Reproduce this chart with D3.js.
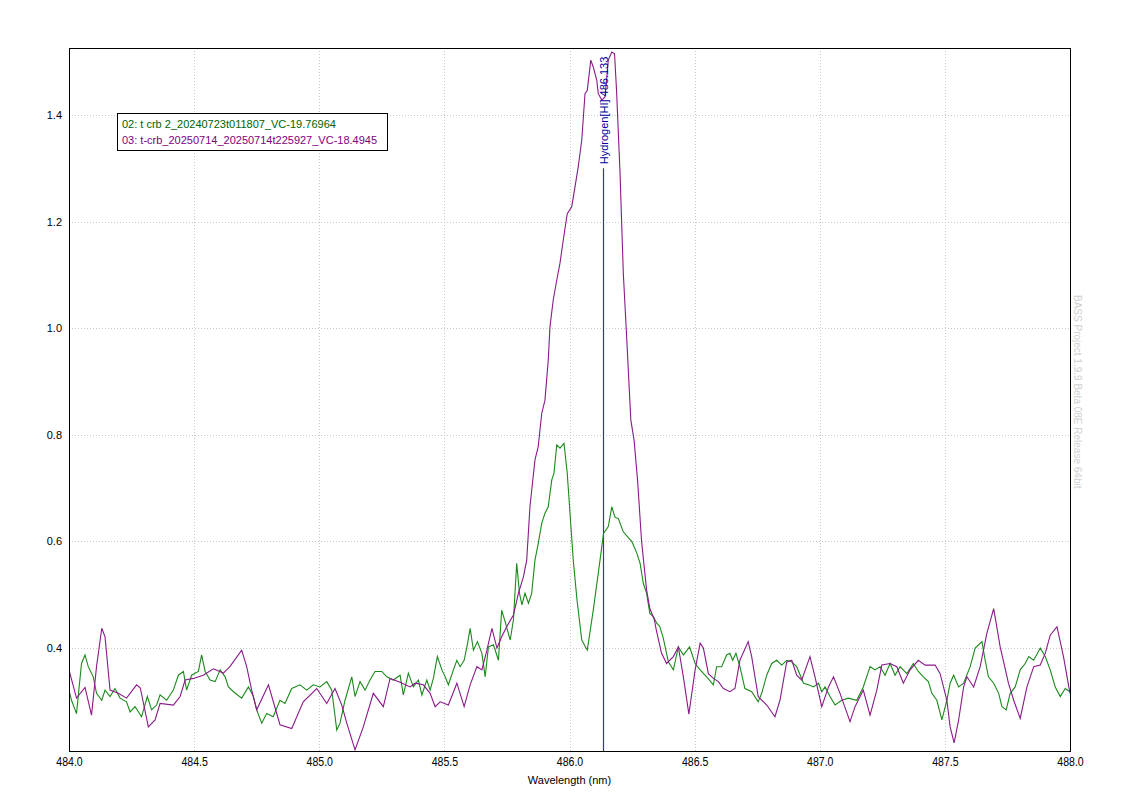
<!DOCTYPE html>
<html><head><meta charset="utf-8">
<script src="https://cdn.jsdelivr.net/npm/d3@7/dist/d3.min.js"></script>
<style>
html,body{margin:0;padding:0;background:#fff;}
svg{display:block;font-family:"Liberation Sans",Arial,sans-serif;}
</style></head>
<body>
<svg id="chart" width="1126" height="800"></svg>
<script>
// ---- data ----
const xTicks = [484.0, 484.5, 485.0, 485.5, 486.0, 486.5, 487.0, 487.5, 488.0];
const yTicks = [0.4, 0.6, 0.8, 1.0, 1.2, 1.4];
const legendLabels = ["02: t crb 2_20240723t011807_VC-19.76964", "03: t-crb_20250714_20250714t225927_VC-18.4945"];
const lineLabel = "Hydrogen[HI] 486.133";
const lineWavelength = 486.133;
const lineTopValue = 1.30;
const xLabel = "Wavelength (nm)";
const watermark = "BASS Project 1.9.9 Beta 08E Release 64bit";

const greenX = [484.00,484.01,484.03,484.05,484.064,484.077,484.097,484.11,484.131,484.144,484.164,484.184,484.204,484.23,484.244,484.264,484.29,484.313,484.33,484.35,484.364,484.39,484.417,484.437,484.457,484.47,484.49,484.517,484.53,484.544,484.564,484.584,484.604,484.624,484.637,484.657,484.69,484.717,484.737,484.75,484.77,484.79,484.816,484.843,484.863,484.89,484.923,484.95,484.976,485.003,485.03,485.05,485.07,485.083,485.103,485.13,485.143,485.163,485.183,485.203,485.223,485.25,485.27,485.296,485.323,485.336,485.356,485.376,485.396,485.41,485.43,485.443,485.456,485.472,485.49,485.503,485.516,485.536,485.55,485.563,485.579,485.59,485.603,485.616,485.632,485.65,485.663,485.676,485.696,485.716,485.729,485.743,485.763,485.776,485.789,485.8,485.81,485.822,485.836,485.849,485.862,485.875,485.889,485.902,485.915,485.929,485.938,485.949,485.962,485.978,485.991,486.002,486.015,486.03,486.049,486.071,486.095,486.122,486.136,486.155,486.169,486.182,486.195,486.215,486.235,486.249,486.269,486.282,486.295,486.308,486.321,486.335,486.348,486.361,486.375,486.395,486.415,486.435,486.455,486.48,486.502,486.522,486.548,486.575,486.588,486.608,486.628,486.641,486.652,486.665,486.681,486.701,486.728,486.754,486.768,486.788,486.808,486.828,486.848,486.868,486.888,486.908,486.935,486.955,486.975,486.995,487.008,487.021,487.041,487.061,487.088,487.114,487.148,487.174,487.201,487.221,487.241,487.261,487.281,487.301,487.321,487.348,487.374,487.394,487.414,487.434,487.448,487.468,487.488,487.508,487.521,487.535,487.555,487.575,487.601,487.621,487.648,487.661,487.674,487.695,487.715,487.728,487.745,487.761,487.781,487.801,487.821,487.835,487.855,487.881,487.901,487.921,487.941,487.961,487.981,488.0];
const greenY = [0.321,0.302,0.277,0.371,0.387,0.365,0.346,0.315,0.302,0.321,0.309,0.324,0.306,0.299,0.28,0.29,0.271,0.309,0.284,0.293,0.312,0.302,0.321,0.349,0.356,0.321,0.349,0.356,0.387,0.356,0.34,0.337,0.359,0.346,0.327,0.318,0.306,0.327,0.309,0.284,0.259,0.277,0.271,0.302,0.296,0.324,0.331,0.321,0.331,0.327,0.337,0.321,0.246,0.259,0.302,0.346,0.309,0.337,0.321,0.34,0.356,0.356,0.346,0.34,0.349,0.312,0.353,0.327,0.34,0.312,0.34,0.321,0.343,0.384,0.359,0.346,0.331,0.359,0.377,0.365,0.377,0.402,0.437,0.396,0.412,0.39,0.346,0.402,0.406,0.377,0.471,0.449,0.415,0.453,0.559,0.503,0.481,0.503,0.484,0.503,0.565,0.596,0.634,0.653,0.665,0.715,0.728,0.781,0.775,0.784,0.728,0.653,0.565,0.49,0.415,0.396,0.471,0.565,0.615,0.628,0.665,0.645,0.643,0.618,0.607,0.6,0.578,0.559,0.521,0.503,0.465,0.459,0.447,0.44,0.418,0.374,0.359,0.402,0.387,0.402,0.371,0.359,0.346,0.331,0.365,0.365,0.387,0.39,0.377,0.39,0.365,0.324,0.318,0.299,0.315,0.349,0.371,0.377,0.368,0.377,0.374,0.365,0.334,0.331,0.327,0.334,0.318,0.327,0.309,0.293,0.302,0.306,0.302,0.327,0.365,0.359,0.365,0.349,0.371,0.349,0.365,0.352,0.371,0.356,0.346,0.337,0.315,0.302,0.265,0.302,0.334,0.349,0.327,0.334,0.365,0.4,0.412,0.377,0.346,0.334,0.315,0.29,0.284,0.315,0.327,0.359,0.371,0.384,0.377,0.4,0.384,0.359,0.327,0.309,0.324,0.318];

const purpleX = [484.00,484.03,484.064,484.09,484.11,484.131,484.144,484.164,484.197,484.23,484.27,484.285,484.317,484.344,484.364,484.417,484.444,484.464,484.497,484.537,484.577,484.617,484.643,484.69,484.71,484.73,484.75,484.797,484.843,484.89,484.936,484.99,485.03,485.063,485.09,485.11,485.143,485.176,485.216,485.256,485.283,485.323,485.363,485.383,485.416,485.443,485.463,485.483,485.516,485.55,485.579,485.603,485.63,485.65,485.67,485.69,485.71,485.729,485.749,485.776,485.796,485.816,485.829,485.842,485.862,485.875,485.889,485.902,485.915,485.922,485.935,485.949,485.962,485.975,485.991,486.009,486.022,486.035,486.049,486.062,486.071,486.085,486.095,486.109,486.115,486.129,486.142,486.155,486.169,486.18,486.188,486.202,486.215,486.229,486.245,486.258,486.272,486.288,486.308,486.321,486.339,486.348,486.368,486.388,486.415,486.435,486.455,486.477,486.502,486.522,486.535,486.555,486.575,486.595,486.615,486.641,486.661,486.681,486.714,486.728,486.754,486.788,486.821,486.841,486.868,486.888,486.908,486.928,486.961,486.981,487.008,487.035,487.055,487.081,487.121,487.141,487.174,487.201,487.228,487.248,487.281,487.308,487.334,487.361,487.394,487.421,487.461,487.481,487.508,487.521,487.537,487.555,487.575,487.588,487.615,487.641,487.668,487.695,487.721,487.754,487.775,487.801,487.828,487.855,487.881,487.901,487.921,487.948,487.974,488.0];
const purpleY = [0.359,0.306,0.326,0.274,0.365,0.437,0.421,0.321,0.315,0.306,0.331,0.325,0.252,0.265,0.296,0.293,0.309,0.34,0.343,0.349,0.361,0.353,0.365,0.396,0.365,0.321,0.284,0.331,0.256,0.249,0.299,0.324,0.296,0.324,0.293,0.259,0.209,0.252,0.315,0.29,0.343,0.336,0.327,0.334,0.331,0.315,0.29,0.299,0.293,0.334,0.29,0.331,0.365,0.359,0.396,0.437,0.4,0.421,0.44,0.462,0.503,0.534,0.565,0.665,0.753,0.778,0.84,0.865,0.94,1.003,1.053,1.09,1.122,1.165,1.215,1.228,1.265,1.303,1.353,1.44,1.446,1.503,1.49,1.465,1.44,1.428,1.434,1.503,1.518,1.515,1.446,1.29,1.103,0.978,0.828,0.79,0.715,0.6,0.509,0.474,0.453,0.431,0.39,0.371,0.384,0.402,0.346,0.276,0.359,0.409,0.4,0.352,0.343,0.337,0.324,0.318,0.324,0.377,0.412,0.384,0.309,0.293,0.271,0.302,0.374,0.377,0.349,0.34,0.384,0.346,0.29,0.327,0.346,0.315,0.262,0.29,0.321,0.274,0.321,0.368,0.371,0.365,0.334,0.359,0.377,0.368,0.368,0.352,0.302,0.252,0.222,0.265,0.327,0.346,0.327,0.365,0.428,0.474,0.402,0.334,0.302,0.268,0.327,0.365,0.368,0.39,0.424,0.44,0.384,0.315];

const seriesColors = ["#1b8a1b", "#8a1a8a"];
const legendColors = ["#006400", "#800080"];

// ---- layout ----
const svg = d3.select("#chart");
const m = {left: 69, right: 1070, top: 48, bottom: 751};
const x = d3.scaleLinear().domain([484.0, 488.0]).range([m.left, m.right]);
const y = d3.scaleLinear().domain([0.2068, 1.5257]).range([m.bottom, m.top]);

svg.append("rect").attr("width", 1126).attr("height", 800).attr("fill", "#fff");

// grid
const grid = svg.append("g");
grid.selectAll(".gx").data(xTicks.slice(1, -1)).enter().append("line")
  .attr("x1", d => Math.round(x(d)) + 0.5).attr("x2", d => Math.round(x(d)) + 0.5)
  .attr("y1", m.top).attr("y2", m.bottom)
  .attr("stroke", "#c8c8c8").attr("stroke-dasharray", "1,2");
grid.selectAll(".gy").data(yTicks).enter().append("line")
  .attr("y1", d => Math.round(y(d)) + 0.5).attr("y2", d => Math.round(y(d)) + 0.5)
  .attr("x1", m.left).attr("x2", m.right)
  .attr("stroke", "#c8c8c8").attr("stroke-dasharray", "1,2");

// axes (labels only)
const xAxis = d3.axisBottom(x).tickValues(xTicks).tickFormat(d3.format(".1f")).tickSize(0).tickPadding(6);
const gx = svg.append("g").attr("transform", `translate(0,${m.bottom})`).call(xAxis);
gx.select(".domain").remove();
gx.selectAll("text").attr("font-size", 12).attr("fill", "#000")
  .attr("font-family", "'Liberation Sans Narrow','Arial Narrow','Liberation Sans',sans-serif")
  .attr("transform", "scale(0.88,1)");

const yAxis = d3.axisLeft(y).tickValues(yTicks).tickFormat(d3.format(".1f")).tickSize(0).tickPadding(7);
const gy = svg.append("g").attr("transform", `translate(${m.left},0)`).call(yAxis);
gy.select(".domain").remove();
gy.selectAll("text").attr("font-size", 11).attr("fill", "#000").attr("font-family", "'Liberation Sans',Arial,sans-serif");

// clip
svg.append("clipPath").attr("id", "clip").append("rect")
  .attr("x", m.left).attr("y", m.top).attr("width", m.right - m.left).attr("height", m.bottom - m.top);

const line = d3.line().x(d => x(d[0])).y(d => y(d[1]));
const plot = svg.append("g").attr("clip-path", "url(#clip)");

// hydrogen line
plot.append("line")
  .attr("x1", Math.round(x(lineWavelength)) + 0.5).attr("x2", Math.round(x(lineWavelength)) + 0.5)
  .attr("y1", y(lineTopValue)).attr("y2", m.bottom)
  .attr("stroke", "#3030d0").attr("stroke-width", 1.2);

const greenData = greenX.map((v, i) => [v, greenY[i]]);
const purpleData = purpleX.map((v, i) => [v, purpleY[i]]);
plot.append("path").datum(greenData).attr("d", line).attr("fill", "none")
  .attr("stroke", seriesColors[0]).attr("stroke-width", 1.1);
plot.append("path").datum(purpleData).attr("d", line).attr("fill", "none")
  .attr("stroke", seriesColors[1]).attr("stroke-width", 1.1);

// line label
svg.append("text")
  .attr("transform", `translate(${Math.round(x(lineWavelength)) + 5},${y(lineTopValue) - 4}) rotate(-90)`)
  .attr("font-size", 11).attr("fill", "#0000a0").text(lineLabel);

// frame
svg.append("rect").attr("x", m.left + 0.5).attr("y", m.top + 0.5)
  .attr("width", m.right - m.left).attr("height", m.bottom - m.top)
  .attr("fill", "none").attr("stroke", "#000").attr("stroke-width", 1);

// legend
const lg = svg.append("g");
lg.append("rect").attr("x", 117.5).attr("y", 113.5).attr("width", 270).attr("height", 37)
  .attr("fill", "#fff").attr("stroke", "#000");
lg.selectAll("text").data(legendLabels).enter().append("text")
  .attr("x", 122).attr("y", (d, i) => 128 + i * 16)
  .attr("font-size", 11).attr("fill", (d, i) => legendColors[i]).text(d => d);

// x label
svg.append("text").attr("x", (m.left + m.right) / 2).attr("y", 784)
  .attr("text-anchor", "middle").attr("font-size", 11)
  .attr("font-family", "'Liberation Sans Narrow','Arial Narrow','Liberation Sans',sans-serif")
  .text(xLabel);

// watermark
svg.append("text").attr("transform", "translate(1074,295) rotate(90)")
  .attr("font-size", 10).attr("fill", "#d0d0d0").text(watermark);
</script>
</body></html>
